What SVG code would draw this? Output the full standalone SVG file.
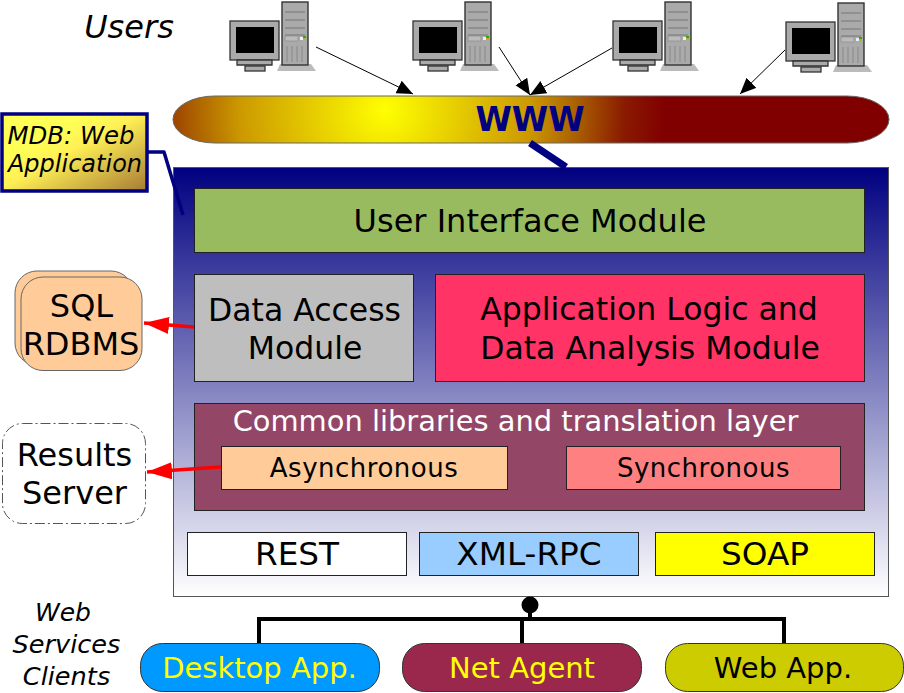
<svg xmlns="http://www.w3.org/2000/svg" xmlns:xlink="http://www.w3.org/1999/xlink" width="904" height="693" viewBox="0 0 904 693">
<style>
text{font-family:"DejaVu Sans",sans-serif;text-anchor:middle;fill:#000}
.i{font-style:italic}
.box{stroke:#222;stroke-width:1}
.f32{font-size:32px}
.f31{font-size:31.5px}
.f33{font-size:32.7px}
.f26{font-size:26px;letter-spacing:.5px}
.f29{font-size:29px}
.f24{font-size:24px}
.f25{font-size:25.6px}
</style>
<defs>
<linearGradient id="main" x1="0" y1="0" x2="0" y2="1"><stop offset="0" stop-color="#000080"/><stop offset="1" stop-color="#fff"/></linearGradient>
<radialGradient id="www" gradientUnits="userSpaceOnUse" cx="385" cy="110" r="280"><stop offset="0" stop-color="#ff0"/><stop offset=".52" stop-color="#cc9900"/><stop offset=".7" stop-color="#a85a00"/><stop offset=".857" stop-color="#8a1a00"/><stop offset="1" stop-color="#800000"/></radialGradient>
<linearGradient id="mdb" x1="0.3" y1="0.3" x2="1" y2="1"><stop offset="0" stop-color="#ffff55"/><stop offset="0.25" stop-color="#fff055"/><stop offset="1" stop-color="#a67a35"/></linearGradient>
<marker id="a" markerUnits="userSpaceOnUse" markerWidth="19" markerHeight="16" refX="16" refY="7" orient="auto"><path d="M0 0L16 7L0 14Z" fill="#000"/></marker>
<marker id="r" markerUnits="userSpaceOnUse" markerWidth="28" markerHeight="20" refX="25" refY="9" orient="auto"><path d="M0 0L25 9L0 17Z" fill="#f00"/></marker>
<g id="pc">
<path d="M277 71L280 64H311L316 71Z" fill="#bbb"/>
<rect x="230" y="21" width="49" height="39" fill="#aaa" stroke="#333" stroke-width="1.3"/>
<rect x="236" y="27" width="38" height="26" fill="#000"/>
<path d="M237 60H272V65H237Z" fill="#aaa" stroke="#333" stroke-width="1.3"/>
<rect x="245" y="66" width="20" height="5" fill="#aaa" stroke="#333" stroke-width="1.3"/>
<rect x="282" y="2" width="26" height="63" fill="#aaa" stroke="#333" stroke-width="1.4"/>
<path d="M285 12H305M285 20H305M285 28H305M285 35H305" stroke="#777" stroke-width="1.2"/>
<rect x="285" y="36" width="13" height="5" fill="#bbb" stroke="#888" stroke-width=".6"/>
<rect x="300" y="37" width="3" height="3" fill="#eee"/>
<rect x="303" y="36" width="3" height="2" fill="#2a2"/>
<rect x="303" y="38" width="3" height="2" fill="#ca2"/>
<path d="M287 46V62M292 46V62M297 46V62M302 46V62" stroke="#888" stroke-width="1"/>
</g>
</defs>
<rect width="904" height="693" fill="#fff"/>
<g id="users"><text x="129" y="38" class="i" style="font-size:32px">Users</text></g>
<g id="pc1"><use xlink:href="#pc"/></g>
<g id="pc2"><use xlink:href="#pc" x="183"/></g>
<g id="pc3"><use xlink:href="#pc" x="383"/></g>
<g id="pc4"><use xlink:href="#pc" x="556" y="1"/></g>
<g id="www-node">
<rect x="173" y="96" width="716" height="47" rx="42" ry="23.5" fill="url(#www)" stroke="#666" stroke-width="1"/>
<text x="530" y="131" style="font-size:33px;font-weight:bold;fill:#000080">WWW</text>
</g>
<g id="web-app">
<rect x="173.500" y="167.500" width="715" height="429" fill="url(#main)" stroke="#555"/>
</g>
<g id="mdb">
<rect x="2" y="114" width="145" height="77" fill="url(#mdb)" stroke="#000080" stroke-width="3.500"/>
<text x="71" y="144" class="i" style="font-size:24.4px">MDB: Web</text>
<text x="75" y="172" class="i f24">Application</text>
</g>
<g id="ui"><rect class="box" x="194.500" y="188.500" width="670" height="64" fill="#99bb5f"/><text x="530" y="232" class="f32">User Interface Module</text></g>
<g id="dam"><rect class="box" x="194.500" y="274.500" width="219" height="107" fill="#bebebe"/><text x="304.500" y="321" class="f31">Data Access</text><text x="305" y="359" class="f31">Module</text></g>
<g id="logic"><rect class="box" x="435.500" y="274.500" width="429" height="107" fill="#ff3366"/><text x="649" y="320" class="f31">Application Logic and</text><text x="650" y="359" class="f31">Data Analysis Module</text></g>
<g id="common"><rect class="box" x="194.500" y="403.500" width="670" height="107" fill="#934666"/><text x="515.500" y="431" style="font-size:28.9px;fill:#fff">Common libraries and translation layer</text></g>
<g id="async"><rect class="box" x="221.500" y="446.500" width="286" height="43" fill="#ffcc99"/><text x="364" y="477" class="f26">Asynchronous</text></g>
<g id="sync"><rect class="box" x="566.500" y="446.500" width="274" height="43" fill="#ff8080"/><text x="703.500" y="477" class="f26">Synchronous</text></g>
<g id="rest"><rect class="box" x="187.500" y="532.500" width="219" height="43" fill="#fff"/><text x="297" y="565" class="f33">REST</text></g>
<g id="xmlrpc"><rect class="box" x="419.500" y="532.500" width="219" height="43" fill="#99ccff"/><text x="529" y="565" class="f33">XML-RPC</text></g>
<g id="soap"><rect class="box" x="655.500" y="532.500" width="219" height="43" fill="#ff0"/><text x="765" y="565" class="f33">SOAP</text></g>
<g id="sql">
<rect x="15" y="271" width="118" height="94" rx="22" fill="#ffcc99" stroke="#666"/>
<rect x="21" y="277" width="121" height="93.500" rx="22" fill="#ffcc99" stroke="#666"/>
<text x="81.500" y="317" class="f32">SQL</text><text x="81" y="355" class="f32">RDBMS</text>
</g>
<g id="results">
<rect x="2.500" y="423.500" width="143" height="100" rx="20" fill="#fff" stroke="#555" stroke-dasharray="10 3 2 3"/>
<text x="74.500" y="466" class="f32">Results</text><text x="74.500" y="504" class="f32">Server</text>
</g>
<g id="ws-label">
<text x="63" y="621" class="i" style="font-size:25px">Web</text><text x="66.500" y="653" class="i f25">Services</text><text x="66.500" y="685" class="i f25">Clients</text>
</g>
<g id="desktop"><rect x="140.500" y="643.500" width="239" height="48" rx="22" fill="#0099ff" stroke="#333"/><text x="259.500" y="678" class="f29" style="fill:#ff0">Desktop App.</text></g>
<g id="agent"><rect x="402.500" y="643.500" width="239" height="48" rx="22" fill="#99284c" stroke="#333"/><text x="522" y="678" class="f29" style="fill:#ff0">Net Agent</text></g>
<g id="webapp"><rect x="665.500" y="643.500" width="238" height="48" rx="22" fill="#cccc00" stroke="#333"/><text x="783" y="678" class="f29">Web App.</text></g>
<g id="connectors" fill="none">
<path d="M316 47L413 94" stroke="#000" marker-end="url(#a)"/>
<path d="M499 47L530 95" stroke="#000" marker-end="url(#a)"/>
<path d="M612 48L530 95" stroke="#000" marker-end="url(#a)"/>
<path d="M785 50L740 94" stroke="#000" marker-end="url(#a)"/>
<path d="M530 143L566 167" stroke="#000080" stroke-width="7"/>
<path d="M147 152H164L183 215" stroke="#000080" stroke-width="3.500" stroke-linejoin="round"/>
<path d="M259 643V619H784V643M522 619V643M530 605V619" stroke="#000" stroke-width="4"/>
<circle cx="530" cy="605" r="8.500" fill="#000"/>
<path d="M194 327L144 323" stroke="#f00" stroke-width="3.500" marker-end="url(#r)"/>
<path d="M221 467L147 472" stroke="#f00" stroke-width="3.500" marker-end="url(#r)"/>
</g>
</svg>
